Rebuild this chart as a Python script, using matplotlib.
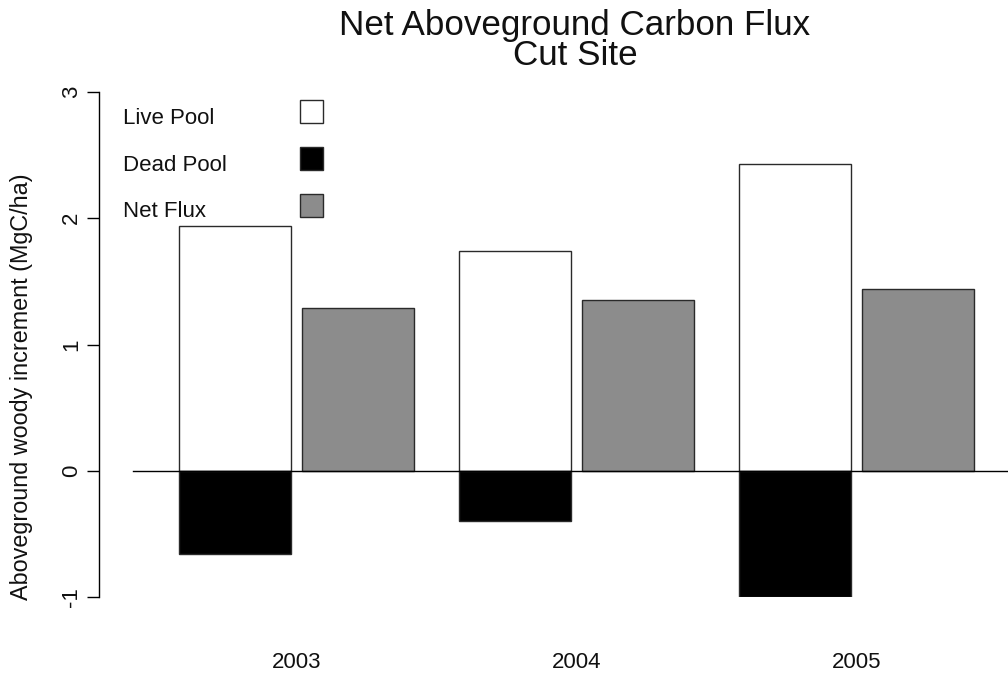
import matplotlib
matplotlib.use("Agg")
import matplotlib.pyplot as plt
from matplotlib.patches import Rectangle
import numpy as np

years = ["2003", "2004", "2005"]
live_pool = [1.94, 1.74, 2.43]
dead_pool = [-0.66, -0.40, -1.00]
net_flux = [1.29, 1.35, 1.44]
legend_labels = ["Live Pool", "Dead Pool", "Net Flux"]
yticks = [-1, 0, 1, 2, 3]

W, H = 1008, 674
FONT = "Liberation Sans"
plt.rcParams['font.family'] = [FONT, 'DejaVu Sans']

fig = plt.figure(figsize=(W / 100, H / 100), dpi=100)
fig.patch.set_facecolor("white")

def px(x, y_top):
    return x / W, 1 - y_top / H

ax_left, ax_right, ax_top, ax_bot = 99, 1008, 92, 597
ax = fig.add_axes([ax_left / W, 1 - ax_bot / H, (ax_right - ax_left) / W, (ax_bot - ax_top) / H])

centers = np.arange(len(years))
bw = 0.4
off = 0.22
edge = "#2a2a2a"
lw = 1.0
live_c, dead_c, net_c = "white", "black", "#8C8C8C"
txt_c = "#111111"

ax.bar(centers - off, live_pool, width=bw, color=live_c, edgecolor=edge, linewidth=lw, zorder=2)
ax.bar(centers - off, dead_pool, width=bw, color=dead_c, edgecolor=edge, linewidth=lw, zorder=2)
ax.bar(centers + off, net_flux, width=bw, color=net_c, edgecolor=edge, linewidth=lw, zorder=2)

x0 = (ax_left - 296.5) / 280
x1 = (ax_right - 296.5) / 280
ax.set_xlim(x0, x1)
ax.set_ylim(-1, 3)

line_start = (133 - ax_left) / (ax_right - ax_left)
ax.axhline(0, xmin=line_start, xmax=1, color="black", linewidth=1.0, zorder=3)

for s in ["top", "right", "bottom"]:
    ax.spines[s].set_visible(False)
ax.spines["left"].set_linewidth(1.0)
ax.spines["left"].set_bounds(-1, 3)

ax.set_yticks(yticks)
ax.set_yticklabels([str(t) for t in yticks], rotation=90, va="center", fontsize=16, color=txt_c)
ax.tick_params(axis="y", length=8.7, width=1.0, pad=3.5)

ax.set_xticks(centers)
ax.set_xticklabels(years, fontsize=16, color=txt_c)
ax.tick_params(axis="x", length=0, pad=39.5)

# y label
fig.text(*px(28.3, 387), "Aboveground woody increment (MgC/ha)", rotation=90,
         rotation_mode="anchor", ha="center", va="baseline", fontsize=16.8, color=txt_c)

# title
fig.text(*px(575, 35), "Net Aboveground Carbon Flux", ha="center", va="baseline", fontsize=25.2, color=txt_c)
fig.text(*px(575, 65), "Cut Site", ha="center", va="baseline", fontsize=25.2, color=txt_c)

# legend
legend_colors = [live_c, dead_c, net_c]
text_base = [124, 170.7, 216.7]
box_top = [100, 147, 194]
for lab, col, tb, bt in zip(legend_labels, legend_colors, text_base, box_top):
    fig.text(*px(123, tb), lab, ha="left", va="baseline", fontsize=16, color=txt_c)
    fig.patches.append(Rectangle(px(299.5, bt + 23), 23.5 / W, 23 / H, transform=fig.transFigure,
                                 facecolor=col, edgecolor=edge, linewidth=lw, figure=fig))

fig.savefig("out.png", dpi=100, facecolor="white")
